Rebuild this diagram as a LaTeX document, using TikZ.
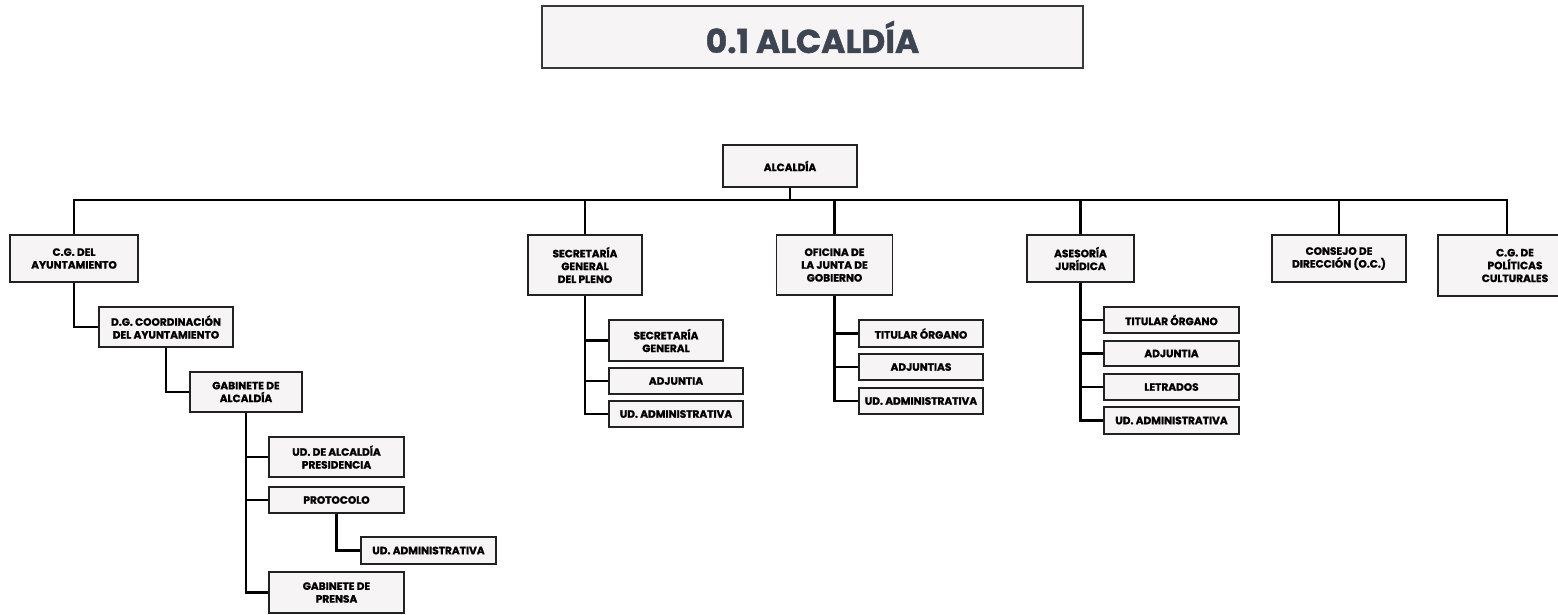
\documentclass[tikz,border=0pt]{standalone}
\usepackage{fontspec}
\setmainfont{Poppins}[BoldFeatures={FakeBold=1.2}]

\definecolor{boxfill}{HTML}{F6F4F4}
\definecolor{boxline}{HTML}{222222}
\definecolor{titletext}{HTML}{3D4452}

\begin{document}
\begin{tikzpicture}[x=1pt, y=-1pt,
  box/.style={draw=boxline, fill=boxfill, line width=1.8pt, inner sep=0pt,
    align=center, font=\fontsize{10.6}{12.8}\selectfont\bfseries},
  titlebox/.style={draw=boxline!90, fill=boxfill, line width=1.5pt, inner sep=0pt,
    text=titletext, font=\fontsize{33}{40}\selectfont\bfseries},
  link/.style={line width=2.4pt, black}]

\clip (0,0) rectangle (1558,614);
\fill[white] (0,0) rectangle (1558,614);

\node[titlebox, minimum width=541pt, minimum height=62pt] (title) at (812.5,37) {0.1 ALCALDÍA};

% top level
\node[box, minimum width=134pt, minimum height=42pt] (alcaldia) at (790,166) {ALCALDÍA};

\node[box, minimum width=128pt, minimum height=47pt] (cgayto) at (74,258.5) {C.G. DEL\\AYUNTAMIENTO};
\node[box, minimum width=114pt, minimum height=60pt] (secpleno) at (585,265) {SECRETARÍA\\GENERAL\\DEL PLENO};
\node[box, minimum width=116pt, minimum height=60pt] (oficina) at (834.5,265) {OFICINA DE\\LA JUNTA DE\\GOBIERNO};
\node[box, minimum width=107pt, minimum height=47pt] (asesoria) at (1080.5,258.5) {ASESORÍA\\JURÍDICA};
\node[box, minimum width=134pt, minimum height=47pt] (consejo) at (1339,258.5) {CONSEJO DE\\DIRECCIÓN (O.C.)};
\node[box, minimum width=154pt, minimum height=61pt] (cgpol) at (1515,265.5) {C.G. DE\\POLÍTICAS\\CULTURALES};

% C.G. del ayuntamiento
\node[box, minimum width=134pt, minimum height=40pt] (dgcoord) at (166,327) {D.G. COORDINACIÓN\\DEL AYUNTAMIENTO};
\node[box, minimum width=112pt, minimum height=40pt] (gabinete) at (246,392) {GABINETE DE\\ALCALDÍA};
\node[box, minimum width=135pt, minimum height=40pt] (udalcaldia) at (336.5,457) {UD. DE ALCALDÍA\\PRESIDENCIA};
\node[box, minimum width=135pt, minimum height=26pt] (protocolo) at (336.5,500) {PROTOCOLO};
\node[box, minimum width=135pt, minimum height=27pt] (udadminprot) at (428.5,550.5) {UD. ADMINISTRATIVA};
\node[box, minimum width=135pt, minimum height=41pt] (prensa) at (336.5,592.5) {GABINETE DE\\PRENSA};

% secretaria general del pleno
\node[box, minimum width=114pt, minimum height=41pt] (secgen) at (666,340.5) {SECRETARÍA\\GENERAL};
\node[box, minimum width=134pt, minimum height=26pt] (adjuntiasec) at (676,381) {ADJUNTIA};
\node[box, minimum width=134pt, minimum height=26pt] (udadminsec) at (676,414) {UD. ADMINISTRATIVA};

% oficina de la junta de gobierno
\node[box, minimum width=124pt, minimum height=27pt] (titularof) at (921,333.5) {TITULAR ÓRGANO};
\node[box, minimum width=124pt, minimum height=26pt] (adjuntiasof) at (921,367) {ADJUNTIAS};
\node[box, minimum width=124pt, minimum height=26pt] (udadminof) at (921,401) {UD. ADMINISTRATIVA};

% asesoria juridica
\node[box, minimum width=135pt, minimum height=26pt] (titularas) at (1171.5,320) {TITULAR ÓRGANO};
\node[box, minimum width=135pt, minimum height=25pt] (adjuntiaas) at (1171.5,353.5) {ADJUNTIA};
\node[box, minimum width=135pt, minimum height=26pt] (letrados) at (1171.5,387) {LETRADOS};
\node[box, minimum width=135pt, minimum height=27pt] (udadminas) at (1171.5,420.5) {UD. ADMINISTRATIVA};

% bus
\coordinate (bus) at (790,200);
\draw[link] (alcaldia) -- (bus);
\draw[link] (bus) -| (cgayto);
\draw[link] (bus) -| (secpleno);
\draw[link] (bus) -| (oficina);
\draw[link] (bus) -| (asesoria);
\draw[link] (bus) -| (consejo);
\draw[link] (bus) -| ([xshift=-8pt]cgpol.north);

\draw[link] (cgayto) |- (dgcoord);
\draw[link] (dgcoord) |- (gabinete);
\draw[link] (gabinete) |- (udalcaldia);
\draw[link] (gabinete) |- (protocolo);
\draw[link] (gabinete) |- (prensa);
\draw[link] (protocolo) |- (udadminprot);

\draw[link] (secpleno) |- (secgen);
\draw[link] (secpleno) |- (adjuntiasec);
\draw[link] (secpleno) |- (udadminsec);

\draw[link] (oficina) |- (titularof);
\draw[link] (oficina) |- (adjuntiasof);
\draw[link] (oficina) |- (udadminof);

\draw[link] (asesoria) |- (titularas);
\draw[link] (asesoria) |- (adjuntiaas);
\draw[link] (asesoria) |- (letrados);
\draw[link] (asesoria) |- (udadminas);

\end{tikzpicture}
\end{document}
